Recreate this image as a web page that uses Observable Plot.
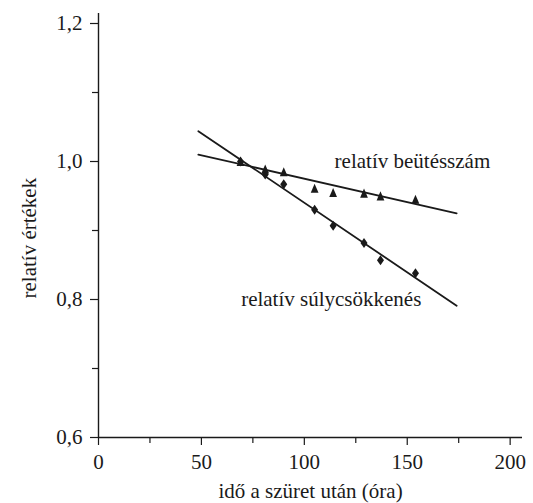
<!DOCTYPE html>
<html>
<head>
<meta charset="utf-8">
<script src="https://cdn.jsdelivr.net/npm/d3@7"></script>
<script src="https://cdn.jsdelivr.net/npm/@observablehq/plot@0.6"></script>
</head>
<body style="margin:0">
<div id="chart"></div>
<script>
// ---- data ----
const hours      = [69, 81, 90, 105, 114, 129, 137, 154];
const countRel   = [0.999, 0.988, 0.984, 0.960, 0.954, 0.953, 0.949, 0.944]; // relatív beütésszám (triangles)
const weightRel  = [1.000, 0.981, 0.967, 0.930, 0.907, 0.882, 0.857, 0.838]; // relatív súlycsökkenés (diamonds)
const fitHours   = [48.5, 174];
const countFit   = [1.010, 0.925];
const weightFit  = [1.044, 0.791];
const xTicks     = [0, 50, 100, 150, 200];
const xMinor     = [25, 75, 125, 175];
const yTicks     = [0.6, 0.8, 1.0, 1.2];
const yMinor     = [0.7, 0.9, 1.1];
const yTickLabels = ["0,6", "0,8", "1,0", "1,2"];
const xTitle = "idő a szüret után (óra)";
const yTitle = "relatív értékek";
const seriesLabels = [
  {x: 114.7, y: 0.990, text: "relatív beütésszám"},
  {x: 69.3, y: 0.790, text: "relatív súlycsökkenés"}
];

const pts = hours.map((h, i) => ({h, c: countRel[i], w: weightRel[i]}));
const fit = fitHours.map((h, i) => ({h, c: countFit[i], w: weightFit[i]}));

const ink = "#1a1a1a";
const serif = "Liberation Serif";
const fs = 21;

const triangleTall = {
  draw(ctx, size) {
    const r = Math.sqrt(size / Math.PI);
    ctx.moveTo(0, -1.45 * r);
    ctx.lineTo(1.05 * r, 1.0 * r);
    ctx.lineTo(-1.05 * r, 1.0 * r);
    ctx.closePath();
  }
};
const diamondTall = {
  draw(ctx, size) {
    const r = Math.sqrt(size / Math.PI);
    ctx.moveTo(0, -1.35 * r);
    ctx.lineTo(0.95 * r, 0);
    ctx.lineTo(0, 1.35 * r);
    ctx.lineTo(-0.95 * r, 0);
    ctx.closePath();
  }
};

const chart = Plot.plot({
  width: 533,
  height: 503,
  marginLeft: 98,
  marginRight: 11,
  marginTop: 13,
  marginBottom: 66,
  x: {domain: [0, 206]},
  y: {domain: [0.6, 1.2145]},
  marks: [
    Plot.axisX(xTicks, {tickSize: 8, tickPadding: 9, tickFormat: d => String(d), label: null, stroke: ink, fill: ink, strokeWidth: 1.2, fontSize: fs, fontFamily: serif}),
    Plot.axisX(xMinor, {tickSize: 6, tickFormat: () => "", label: null, stroke: ink, strokeWidth: 1.2}),
    Plot.axisY(yTicks, {tickSize: 8, tickPadding: 8, tickFormat: (d, i) => yTickLabels[i], label: null, stroke: ink, fill: ink, strokeWidth: 1.2, fontSize: fs, fontFamily: serif}),
    Plot.axisY(yMinor, {tickSize: 6, tickFormat: () => "", label: null, stroke: ink, strokeWidth: 1.2}),
    Plot.ruleX([0], {stroke: ink, strokeWidth: 1.4}),
    Plot.ruleY([0.6], {stroke: ink, strokeWidth: 1.4}),
    Plot.line(fit, {x: "h", y: "c", stroke: ink, strokeWidth: 1.8}),
    Plot.line(fit, {x: "h", y: "w", stroke: ink, strokeWidth: 1.8}),
    Plot.dot(pts, {x: "h", y: "w", symbol: diamondTall, r: 3.7, fill: ink, stroke: "none"}),
    Plot.dot(pts, {x: "h", y: "c", symbol: triangleTall, r: 3.7, fill: ink, stroke: "none"}),
    Plot.text(seriesLabels, {x: "x", y: "y", text: "text", textAnchor: "start", lineAnchor: "bottom", fill: ink, fontSize: fs, fontFamily: serif}),
    Plot.text([xTitle], {frameAnchor: "bottom", dy: 60, textAnchor: "middle", lineAnchor: "bottom", fill: ink, fontSize: fs, fontFamily: serif}),
    Plot.text([yTitle], {frameAnchor: "left", dx: -63, dy: 73, rotate: -90, textAnchor: "start", lineAnchor: "bottom", fill: ink, fontSize: fs, fontFamily: serif})
  ]
});
document.getElementById("chart").appendChild(chart);
</script>
</body>
</html>
